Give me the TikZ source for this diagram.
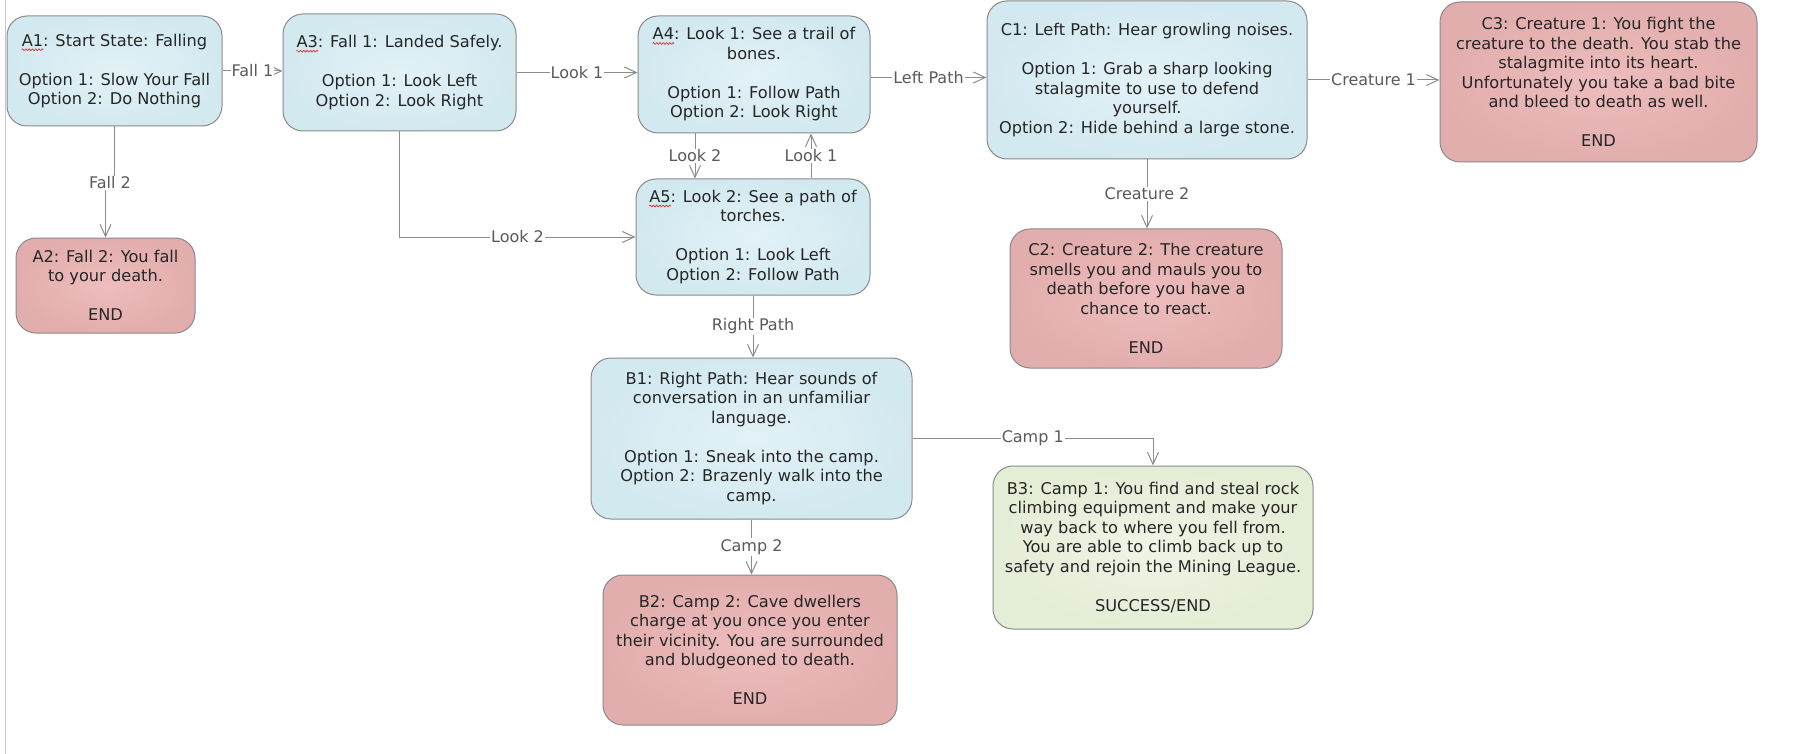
\documentclass[tikz,border=0pt]{standalone}
\usepackage{fontspec}
\setmainfont{DejaVu Sans}
\usetikzlibrary{arrows.meta}
\definecolor{boxline}{HTML}{8A8A8A}
\definecolor{lineclr}{HTML}{8C8C8C}
\definecolor{txt}{HTML}{262626}
\definecolor{lbltxt}{HTML}{5A5A5A}
\definecolor{bluein}{HTML}{E2F2F7}
\definecolor{blueout}{HTML}{D3E9F0}
\definecolor{redin}{HTML}{EEBDBD}
\definecolor{redout}{HTML}{E2ADAD}
\definecolor{greenin}{HTML}{EFF5E6}
\definecolor{greenout}{HTML}{E4EDD6}
\definecolor{spellred}{HTML}{E03030}
\definecolor{edgegray}{HTML}{C8C8C8}
\newlength\sperrw
\newcommand\sperr[1]{\settowidth\sperrw{#1}\rlap{\tikz[baseline=0pt, x=1pt, y=1pt]{\useasboundingbox (0,0); \draw[spellred, line width=0.7pt, sharp corners] plot[domain=0:\the\sperrw, samples=30, smooth] (\x, {-3.5+0.9*sin(\x*110)});}}#1}
\begin{document}
\begin{tikzpicture}[x=1pt,y=-1pt,
  box/.style={draw=boxline, line width=1pt, rounded corners=20pt, align=center, inner sep=0pt, text=txt, font=\fontsize{16.2}{19.5}\selectfont},
  bluebox/.style={box, inner color=bluein, outer color=blueout},
  redbox/.style={box, inner color=redin, outer color=redout},
  greenbox/.style={box, inner color=greenin, outer color=greenout},
  sz/.style 2 args={minimum width=#1pt, minimum height=#2pt},
  lbl/.style={fill=white, inner sep=1pt, text=lbltxt, font=\fontsize{16}{19}\selectfont},
  conn/.style={draw=lineclr, line width=1pt},
  arr/.style={conn, -{Straight Barb[length=12pt,width=11pt]}}
]
\useasboundingbox (0,0) rectangle (1796,754);
\fill[white] (0,0) rectangle (1796,754);
\draw[draw=edgegray, line width=1pt] (5,0) -- (5,754);

\node[bluebox, sz={215}{110}] (A1) at (114.5,71) {\sperr{A1}: Start State: Falling\\~\\Option 1: Slow Your Fall\\Option 2: Do Nothing};
\node[redbox, sz={179}{95}] (A2) at (105.5,285.5) {A2: Fall 2: You fall\\to your death.\\~\\END};
\node[bluebox, sz={233}{117}] (A3) at (399.5,72.5) {\sperr{A3}: Fall 1: Landed Safely.\\~\\Option 1: Look Left\\Option 2: Look Right};
\node[bluebox, sz={232}{117}] (A4) at (754,74.5) {\sperr{A4}: Look 1: See a trail of\\bones.\\~\\Option 1: Follow Path\\Option 2: Look Right};
\node[bluebox, sz={234}{116}] (A5) at (753,237) {\sperr{A5}: Look 2: See a path of\\torches.\\~\\Option 1: Look Left\\Option 2: Follow Path};
\node[bluebox, sz={320}{158}] (C1) at (1147,80) {C1: Left Path: Hear growling noises.\\~\\Option 1: Grab a sharp looking\\stalagmite to use to defend\\yourself.\\Option 2: Hide behind a large stone.};
\node[redbox, sz={272}{139}] (C2) at (1146,298.5) {C2: Creature 2: The creature\\smells you and mauls you to\\death before you have a\\chance to react.\\~\\END};
\node[redbox, sz={317}{160}] (C3) at (1598.5,82) {C3: Creature 1: You fight the\\creature to the death. You stab the\\stalagmite into its heart.\\Unfortunately you take a bad bite\\and bleed to death as well.\\~\\END};
\node[bluebox, sz={321}{161}] (B1) at (751.5,438.5) {B1: Right Path: Hear sounds of\\conversation in an unfamiliar\\language.\\~\\Option 1: Sneak into the camp.\\Option 2: Brazenly walk into the\\camp.};
\node[redbox, sz={294}{150}] (B2) at (750,650) {B2: Camp 2: Cave dwellers\\charge at you once you enter\\their vicinity. You are surrounded\\and bludgeoned to death.\\~\\END};
\node[greenbox, sz={320}{163}] (B3) at (1153,547.5) {B3: Camp 1: You find and steal rock\\climbing equipment and make your\\way back to where you fell from.\\You are able to climb back up to\\safety and rejoin the Mining League.\\~\\SUCCESS/END};

\draw[arr] (A1.east) -- (A1.east -| A3.west) node[lbl, midway] {Fall 1};
\node[lbl] (f2) at (110,183) {Fall 2};
\draw[conn] (A1.south) -- (A1.south |- f2.north);
\draw[arr] (A2.north |- f2.south) -- (A2.north);
\draw[arr] (A3.east) -- (A3.east -| A4.west) node[lbl, midway] {Look 1};
\draw[arr] (A3.south) |- (A5.west) node[lbl, pos=0.75] {Look 2};
\draw[arr] ([xshift=-59pt]A4.south) -- ([xshift=-59pt]A4.south |- A5.north) node[lbl, midway] {Look 2};
\draw[arr] ([xshift=58pt]A5.north) -- ([xshift=58pt]A5.north |- A4.south) node[lbl, midway] {Look 1};
\draw[arr] (A5.south) -- (A5.south |- B1.north) node[lbl, midway] {Right Path};
\draw[arr] ([yshift=-3pt]A4.east) -- ([yshift=-3pt]A4.east -| C1.west) node[lbl, midway] {Left Path};
\draw[arr] (C1.east) -- (C1.east -| C3.west) node[lbl, midway] {Creature 1};
\draw[arr] (C1.south) -- (C1.south |- C2.north) node[lbl, midway] {Creature 2};
\draw[arr] (B1.south) -- (B1.south |- B2.north) node[lbl, midway] {Camp 2};
\draw[arr] (B1.east) -| (B3.north) node[lbl, pos=0.25] {Camp 1};
\end{tikzpicture}
\end{document}
